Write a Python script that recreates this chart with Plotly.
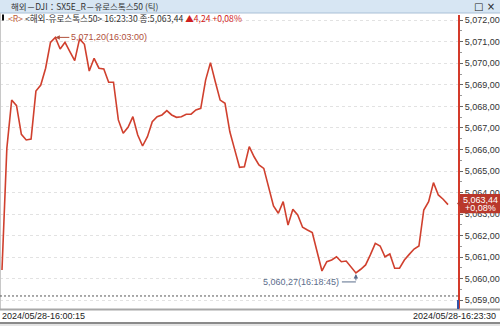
import plotly.graph_objects as go

# ---------------- data ----------------
prices = [5060.41, 5066.05, 5068.29, 5068.03, 5066.70, 5066.44, 5066.48, 5068.71, 5068.99, 5069.77,
          5070.97, 5071.20, 5070.66, 5070.97, 5070.54, 5070.12, 5071.13, 5070.88, 5069.64, 5070.23,
          5069.77, 5069.73, 5069.12, 5069.12, 5067.37, 5066.75, 5067.03, 5067.52, 5066.67, 5066.16,
          5066.59, 5067.29, 5067.52, 5067.60, 5067.80, 5067.60, 5067.49, 5067.52, 5067.63, 5067.64,
          5067.83, 5067.91, 5069.22, 5070.03, 5069.14, 5068.29, 5068.14, 5066.82, 5065.99, 5065.17,
          5065.20, 5066.13, 5065.66, 5065.28, 5065.12, 5064.18, 5063.38, 5063.04, 5063.58, 5062.49,
          5063.22, 5062.96, 5062.39, 5062.26, 5062.14, 5061.25, 5060.36, 5060.79, 5060.87, 5061.02,
          5060.79, 5060.82, 5060.57, 5060.27, 5060.44, 5060.64, 5061.12, 5061.64, 5061.52, 5061.02,
          5061.15, 5060.49, 5060.49, 5060.87, 5061.13, 5061.38, 5061.52, 5063.19, 5063.58, 5064.46,
          5063.89, 5063.69, 5063.44]
prev_close = 5059.20
change = 4.24
change_pct = "+0,08%"
y_ticks = [5059, 5060, 5061, 5062, 5063, 5064, 5065, 5066, 5067, 5068, 5069, 5070, 5071, 5072]
y_ticklabels = ["5,059,00", "5,060,00", "5,061,00", "5,062,00", "5,063,00", "5,064,00", "5,065,00",
                "5,066,00", "5,067,00", "5,068,00", "5,069,00", "5,070,00", "5,071,00", "5,072,00"]
start_label = "2024/05/28-16:00:15"
end_label = "2024/05/28-16:23:30"
max_time = "16:03:00"
min_time = "16:18:45"
last_time = "16:23:30"
title_text = "해외－DJI：SX5E_R－유로스톡스50 (틱)"
name_text = "&lt;해외-유로스톡스50&gt;"

# ---------------- layout geometry ----------------
W, H = 500, 326
PL, PR, PT, PB = 0, 458, 15, 309
X_RANGE = [-0.41, 94.06]
Y_RANGE = [5058.596, 5072.239]


def px(x):
    return (x - PL) / (PR - PL)


def py(y):
    return (PB - y) / (PB - PT)


def fmt(v):
    s = f"{v:,.2f}"
    return s.replace(".", ",")


idx = list(range(len(prices)))
imax = max(idx, key=lambda i: prices[i])
imin = min(idx, key=lambda i: prices[i])
last = prices[-1]

LINE_RED = "#d0402e"
FONT = "Liberation Sans"
KFONT = "Noto Sans CJK KR"

fig = go.Figure()
fig.add_trace(go.Scatter(x=idx, y=prices, mode="lines",
                         line=dict(color=LINE_RED, width=1.6), hoverinfo="skip"))

shapes = []
# title bar
shapes.append(dict(type="rect", xref="paper", yref="paper", x0=px(0), x1=px(500), y0=py(0), y1=py(13),
                   fillcolor="#d7e6f3", line=dict(width=0), layer="above"))
shapes.append(dict(type="line", xref="paper", yref="paper", x0=px(0), x1=px(500), y0=py(13), y1=py(13),
                   line=dict(color="#a9c0d6", width=1), layer="above"))
# left edge
shapes.append(dict(type="line", xref="paper", yref="paper", x0=px(0.5), x1=px(0.5), y0=py(13), y1=py(309),
                   line=dict(color="#c8c8c8", width=1), layer="above"))
# info marker
shapes.append(dict(type="rect", xref="paper", yref="paper", x0=px(2), x1=px(4), y0=py(14.5), y1=py(20.5),
                   fillcolor="#111", line=dict(width=0), layer="above"))
# previous close
shapes.append(dict(type="line", xref="paper", yref="y", x0=0, x1=1, y0=prev_close, y1=prev_close,
                   line=dict(color="#555555", width=1, dash="2px,2px"), layer="above"))
# bottom band
shapes.append(dict(type="line", xref="paper", yref="paper", x0=px(0), x1=px(500), y0=py(309.5), y1=py(309.5),
                   line=dict(color="#a8a8a8", width=2), layer="above"))
shapes.append(dict(type="line", xref="paper", yref="paper", x0=px(0), x1=px(500), y0=py(323), y1=py(323),
                   line=dict(color="#8a8a8a", width=2), layer="above"))
shapes.append(dict(type="rect", xref="paper", yref="paper", x0=px(0), x1=px(500), y0=py(324), y1=py(326),
                   fillcolor="#e4e4e4", line=dict(width=0), layer="above"))
# blue end of axis line
shapes.append(dict(type="line", xref="paper", yref="paper", x0=px(458), x1=px(458), y0=py(300), y1=py(309),
                   line=dict(color="#3355aa", width=2), layer="above"))
# price box
shapes.append(dict(type="rect", xref="paper", yref="y", x0=px(460), x1=px(500),
                   ysizemode="pixel", yanchor=last, y0=-8.7, y1=10.5,
                   fillcolor="#b9382b", line=dict(width=0), layer="above"))
shapes.append(dict(type="path", xref="paper", yref="y", xsizemode="pixel", xanchor=px(460),
                   ysizemode="pixel", yanchor=last, path="M -3 1 L 1 5 L 1 -3 Z",
                   fillcolor="#b9382b", line=dict(width=0), layer="above"))
# min connector
MIN_COL = "#5b6d8c"
shapes.append(dict(type="line", xref="x", yref="y", xsizemode="pixel", xanchor=imin, x0=-14, x1=0,
                   ysizemode="pixel", yanchor=prices[imin], y0=-9, y1=-9,
                   line=dict(color=MIN_COL, width=1), layer="above"))

ann = []
ann.append(dict(xref="paper", yref="paper", x=px(9), y=py(6.5), xanchor="left", yanchor="middle",
                text=title_text, showarrow=False, font=dict(family=KFONT, size=8.5, color="#333")))
ann.append(dict(xref="paper", yref="paper", x=px(497), y=py(6.5), xanchor="right", yanchor="middle",
                text="□ ×", showarrow=False, font=dict(family="DejaVu Sans", size=10, color="#222")))
info = (f"<span style='color:#c0603a'>&lt;R&gt;</span> {name_text} {last_time} 종:{fmt(last)} "
        f"<span style='color:#d02020'>▲{fmt(change)} {change_pct}</span>")
ann.append(dict(xref="paper", yref="paper", x=px(6), y=py(18), xanchor="left", yanchor="middle",
                text=info, showarrow=False, font=dict(family=KFONT, size=8.6, color="#333")))
# max annotation
ann.append(dict(xref="x", yref="y", x=imax, y=prices[imax], ax=14, ay=0, axref="pixel", ayref="pixel",
                xanchor="left", yanchor="middle",
                text=f"{fmt(prices[imax])}({max_time})", showarrow=True, arrowhead=2, arrowsize=0.9,
                arrowwidth=1, arrowcolor="#b0503c", standoff=0,
                font=dict(family=FONT, size=9, color="#b0503c")))
# min annotation
ann.append(dict(xref="x", yref="y", x=imin, y=prices[imin], ax=0, ay=9,
                text="", showarrow=True, arrowhead=2, arrowsize=0.9, arrowwidth=1,
                arrowcolor=MIN_COL, standoff=1))
ann.append(dict(xref="x", yref="y", x=imin, y=prices[imin], xshift=-15, yshift=-9,
                xanchor="right", yanchor="middle", showarrow=False,
                text=f"{fmt(prices[imin])}({min_time})",
                font=dict(family=FONT, size=9, color=MIN_COL)))
# price box text
ann.append(dict(xref="paper", yref="y", x=px(480), y=last, yshift=5.0, xanchor="center", yanchor="middle",
                text=fmt(last), showarrow=False, font=dict(family=FONT, size=9, color="white")))
ann.append(dict(xref="paper", yref="y", x=px(480), y=last, yshift=-3.6, xanchor="center", yanchor="middle",
                text=change_pct, showarrow=False, font=dict(family=FONT, size=9, color="white")))
# time labels
ann.append(dict(xref="paper", yref="paper", x=px(0), y=py(316), xanchor="left", yanchor="middle",
                text=start_label, showarrow=False, font=dict(family=FONT, size=9, color="#222")))
ann.append(dict(xref="paper", yref="paper", x=px(498), y=py(316), xanchor="right", yanchor="middle",
                text=end_label, showarrow=False, font=dict(family=FONT, size=9, color="#222")))

fig.update_layout(
    width=W, height=H,
    margin=dict(l=PL, r=W - PR, t=PT, b=H - PB, pad=0),
    paper_bgcolor="white", plot_bgcolor="white",
    showlegend=False,
    shapes=shapes, annotations=ann,
    xaxis=dict(range=X_RANGE, visible=False, fixedrange=True),
    yaxis=dict(range=Y_RANGE, side="right", tickvals=y_ticks, ticktext=y_ticklabels,
               showgrid=True, gridcolor="#e2e2e2", griddash="dot", gridwidth=1,
               showline=True, linecolor="#d43a2a", linewidth=2,
               ticks="outside", ticklen=3, tickcolor="#666", tickwidth=1,
               minor=dict(ticks="outside", ticklen=2, tickcolor="#999", dtick=0.5, showgrid=False),
               tickfont=dict(family=FONT, size=9, color="#333"),
               zeroline=False, fixedrange=True),
)

fig.write_html("out.html")
